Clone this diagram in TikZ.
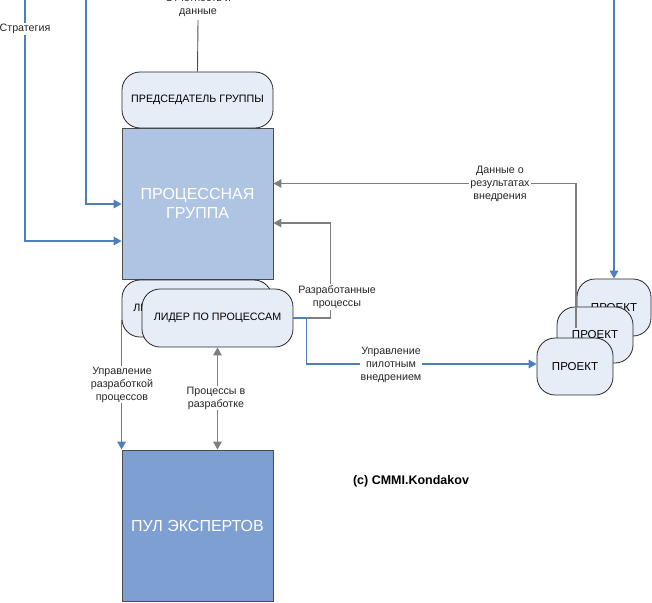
\documentclass[tikz,border=0pt]{standalone}
\usepackage{fontspec}
\setmainfont{Liberation Sans}
\usepackage{tikz}
\usetikzlibrary{arrows, arrows.meta, positioning, shapes}

\definecolor{linkblue}{HTML}{4F7EBE}
\definecolor{linkgray}{HTML}{7F7F7F}
\definecolor{grpfill}{HTML}{AFC3E3}
\definecolor{poolfill}{HTML}{7D9FD1}
\definecolor{roundfill}{HTML}{E7EDF7}

\begin{document}
\begin{tikzpicture}[x=1pt, y=-1pt,
  font=\fontsize{10.7}{13}\selectfont,
  >={Triangle[length=8pt,width=8.5pt]},
  rbox/.style={draw=black!85, fill=roundfill, rounded corners=18pt, inner sep=0pt, line width=0.8pt},
  sqbox/.style={draw=black!70, inner sep=0pt, minimum width=151pt, minimum height=151pt, line width=0.8pt,
    text=white, align=center, font=\fontsize{16}{18.5}\selectfont},
  lbl/.style={fill=white, align=center, inner sep=1pt, text=black!85},
  blueline/.style={draw=linkblue, line width=1.6pt},
  grayline/.style={draw=linkgray, line width=1.4pt}]

\useasboundingbox (0, 0) rectangle (652, 602);

% nodes
\node[sqbox, fill=grpfill] (grp) at (197.5, 203.5) {ПРОЦЕССНАЯ\\ГРУППА};
\node[rbox, minimum width=151pt, minimum height=56pt] (chair) at (197.5, 100) {ПРЕДСЕДАТЕЛЬ ГРУППЫ};
\node[sqbox, fill=poolfill] (pool) at (197.5, 525.5) {ПУЛ ЭКСПЕРТОВ};

\node[rbox, minimum width=150pt, minimum height=57pt] (ldrB) at (197, 308.5) {ЛИДЕР ПО ПРОЦЕССАМ};
\node[rbox, minimum width=151pt, minimum height=58pt] (ldrF) at (217.5, 318) {ЛИДЕР ПО ПРОЦЕССАМ};

\node[rbox, minimum width=74pt, minimum height=57pt, font=\fontsize{11.5}{14}\selectfont] (projA) at (614, 307.5) {ПРОЕКТ};
\node[rbox, minimum width=76pt, minimum height=56pt, font=\fontsize{11.5}{14}\selectfont] (projB) at (595, 335) {ПРОЕКТ};
\node[rbox, minimum width=76pt, minimum height=57pt, font=\fontsize{11.5}{14}\selectfont] (projC) at (575, 366.5) {ПРОЕКТ};

\node[font=\bfseries\fontsize{12.5}{15}\selectfont] (copy) at (411, 481) {(c) CMMI.Kondakov};

\coordinate (strat1) at (25, 0);
\coordinate (strat2) at (86, 0);
\coordinate (prjtop) at (614, 0);
\coordinate (rep) at (198, 20);
\coordinate (fb) at ([xshift=-19pt, yshift=7pt]projB.center);

% arrows
\draw [blueline, ->] (strat1) |- ([yshift=-37.5pt]grp.west);
\draw [blueline, ->] (strat2) |- ([yshift=-0.5pt]grp.west);
\draw [blueline, ->] (prjtop) -- (projA.north);
\draw [blueline, ->] ([yshift=-11.5pt]ldrB.west) -- (pool.north west);
\draw [grayline, <->] (ldrF.south) -- (ldrF.south |- pool.north);
\draw [grayline, ->] (ldrF.east) -- ++(37, 0) |- ([yshift=-19.5pt]grp.east);
\draw [blueline, ->] (ldrF.east) -- ++(13, 0) |- ([yshift=2.5pt]projC.west);
\draw [grayline, ->] (fb) |- ([yshift=20pt]grp.east);
\draw [draw=black!70, line width=0.9pt] (chair.north) -- (rep);

% labels
\node[lbl] (lstrat) at (25, 29) {Стратегия};
\node[lbl, fill=none] (lrep) at (198, 5.5) {Отчетность и\\данные};
\node[lbl] (lres) at (500, 184) {Данные о\\результатах\\внедрения};
\node[lbl] (ldev) at (337, 297) {Разработанные\\процессы};
\node[lbl] (lpilot) at (391, 365) {Управление\\пилотным\\внедрением};
\node[lbl] (lmgmt) at (122, 384.5) {Управление\\разработкой\\процессов};
\node[lbl] (linwork) at (216, 398) {Процессы в\\разработке};

\end{tikzpicture}
\end{document}
